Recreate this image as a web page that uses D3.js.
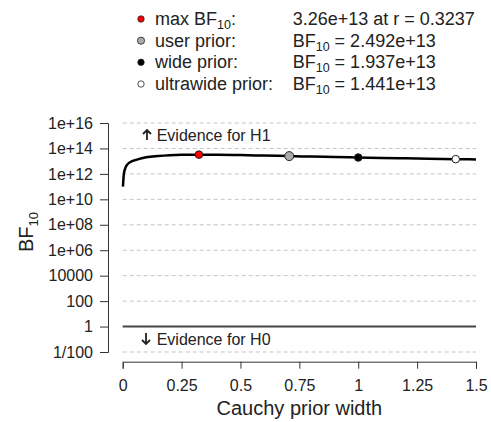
<!DOCTYPE html>
<html>
<head>
<meta charset="utf-8">
<script src="https://cdn.jsdelivr.net/npm/d3@7"></script>
<style>
  body { margin: 0; background: #fff; }
  text { font-family: "Liberation Sans", Arial, sans-serif; fill: #222; }
</style>
</head>
<body>
<script>
// values
const priorWidth = [0.001, 0.005, 0.01, 0.02, 0.04, 0.06, 0.1, 0.15, 0.2, 0.25, 0.3237, 0.4, 0.5, 0.6, 0.707, 0.8, 0.9, 1.0, 1.1, 1.2, 1.3, 1.414, 1.5]
const bf10 = [1.0e11, 1.0e12, 2.5e12, 5.6e12, 1.0e13, 1.32e13, 2.0e13, 2.5e13, 2.9e13, 3.15e13, 3.26e13, 3.2e13, 3.02e13, 2.75e13, 2.492e13, 2.29e13, 2.11e13, 1.937e13, 1.78e13, 1.66e13, 1.55e13, 1.441e13, 1.365e13]

const pointNames = ["max", "user", "wide", "ultrawide"]
const pointR = [0.3237, 0.707, 1, 1.414]
const pointBF = [3.26e13, 2.492e13, 1.937e13, 1.441e13]
const pointFill = ["#ff0000", "#aaaaaa", "#000000", "#ffffff"]
const legendLabels = ["max BF", "user prior:", "wide prior:", "ultrawide prior:"]
const legendValues = ["3.26e+13 at r = 0.3237", "2.492e+13", "1.937e+13", "1.441e+13"]

const yTicks = [1e16, 1e14, 1e12, 1e10, 1e8, 1e6, 1e4, 100, 1, 0.01]
const yLabels = ["1e+16", "1e+14", "1e+12", "1e+10", "1e+08", "1e+06", "10000", "100", "1", "1/100"]
const xTicks = [0, 0.25, 0.5, 0.75, 1, 1.25, 1.5]
const xLabels = ["0", "0.25", "0.5", "0.75", "1", "1.25", "1.5"]

const width = 491, height = 422
const svg = d3.select("body").append("svg").attr("width", width).attr("height", height)

const x = d3.scaleLinear().domain([0, 1.5]).range([122.7, 476])
const y = d3.scaleLog().domain([0.01, 1e16]).range([352, 123])

// grid lines
svg.append("g").selectAll("line")
  .data(yTicks.filter(d => d !== 1))
  .enter().append("line")
  .attr("x1", x(0)).attr("x2", x(1.5))
  .attr("y1", d => y(d)).attr("y2", d => y(d))
  .attr("stroke", "#c4c4c4").attr("stroke-width", 1)
  .attr("stroke-dasharray", "4,3")

// BF = 1 line
svg.append("line")
  .attr("x1", x(0)).attr("x2", x(1.5))
  .attr("y1", y(1)).attr("y2", y(1))
  .attr("stroke", "#444").attr("stroke-width", 2)

// y axis
const yAxis = svg.append("g").attr("transform", "translate(108,0)")
  .call(d3.axisLeft(y).tickValues(yTicks).tickFormat((d, i) => yLabels[i]).tickSizeOuter(0).tickSize(8).tickPadding(7))
yAxis.select(".domain").attr("stroke", "#333")
yAxis.selectAll(".tick line").attr("stroke", "#333")
yAxis.selectAll("text").style("font-size", "16px").attr("fill", "#222")

// x axis
const xAxis = svg.append("g").attr("transform", "translate(0,361.7)")
  .call(d3.axisBottom(x).tickValues(xTicks).tickFormat((d, i) => xLabels[i]).tickSizeOuter(0).tickSize(7).tickPadding(11))
xAxis.select(".domain").attr("stroke", "#333")
xAxis.selectAll(".tick line").attr("stroke", "#333")
xAxis.selectAll("text").style("font-size", "16px").attr("fill", "#222")

// axis titles
svg.append("text").attr("x", x(0.75)).attr("y", 415)
  .attr("text-anchor", "middle").style("font-size", "20px").text("Cauchy prior width")

const yt = svg.append("text").attr("transform", "translate(33,232) rotate(-90)")
  .attr("text-anchor", "middle").style("font-size", "20px")
yt.append("tspan").text("BF")
yt.append("tspan").attr("dy", 5).style("font-size", "13px").text("10")

// curve
const line = d3.line().x((d, i) => x(priorWidth[i])).y(d => y(d)).curve(d3.curveMonotoneX)
svg.append("path").datum(bf10)
  .attr("d", line).attr("fill", "none")
  .attr("stroke", "#000").attr("stroke-width", 2.5)

// evidence annotations
function arrow(cx, y1, y2) {
  const dir = y2 > y1 ? 1 : -1
  svg.append("path")
    .attr("d", `M${cx},${y1}L${cx},${y2}M${cx - 4},${y2 - dir * 4}L${cx},${y2}L${cx + 4},${y2 - dir * 4}`)
    .attr("fill", "none").attr("stroke", "#222").attr("stroke-width", 1.8)
}
arrow(147, 140, 130)
svg.append("text").attr("x", 156.7).attr("y", 140.5).style("font-size", "16px").text("Evidence for H1")
arrow(146, 333, 344)
svg.append("text").attr("x", 156.7).attr("y", 344.5).style("font-size", "16px").text("Evidence for H0")

// points on the curve
svg.append("g").selectAll("circle")
  .data(pointNames)
  .enter().append("circle")
  .attr("cx", (d, i) => x(pointR[i]))
  .attr("cy", (d, i) => y(pointBF[i]))
  .attr("r", (d, i) => i === 1 ? 4.5 : 3.8)
  .attr("fill", (d, i) => pointFill[i])
  .attr("stroke", "#222").attr("stroke-width", 1)

// legend
const rowY = [25, 46.7, 68.3, 90]
const lg = svg.append("g")
lg.selectAll("circle").data(pointNames).enter().append("circle")
  .attr("cx", 141).attr("cy", (d, i) => rowY[i] - 6)
  .attr("r", (d, i) => i === 1 ? 3.6 : 3.2)
  .attr("fill", (d, i) => pointFill[i])
  .attr("stroke", "#222").attr("stroke-width", 0.8)

pointNames.forEach((d, i) => {
  const t = lg.append("text").attr("x", 155).attr("y", rowY[i]).style("font-size", "18px")
  t.append("tspan").text(legendLabels[i])
  if (i === 0) {
    t.append("tspan").attr("dy", 4).style("font-size", "12.5px").text("10")
    t.append("tspan").attr("dy", -4).text(":")
  }
  const v = lg.append("text").attr("x", 292.7).attr("y", rowY[i]).style("font-size", "18px")
  if (i === 0) {
    v.text(legendValues[i])
  } else {
    v.append("tspan").text("BF")
    v.append("tspan").attr("dy", 4).style("font-size", "12.5px").text("10")
    v.append("tspan").attr("dy", -4).text(" = " + legendValues[i])
  }
})
</script>
</body>
</html>
